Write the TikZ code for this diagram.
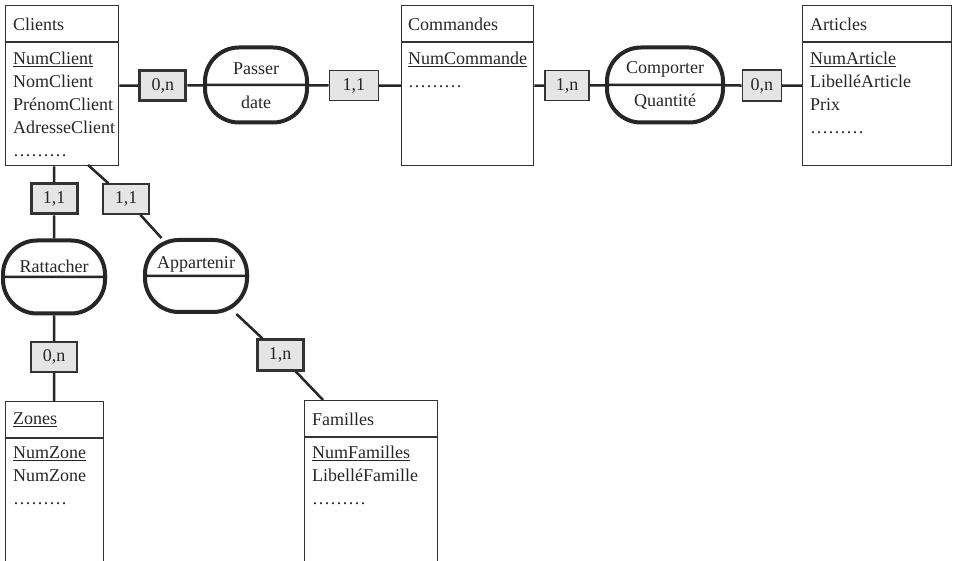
\documentclass[tikz,border=0pt]{standalone}
\usepackage{fontspec}
\setmainfont{Liberation Serif}
\usetikzlibrary{positioning}
\tikzset{entity/.style={shape=rectangle, draw=black!80, line width=1.3pt,
    anchor=north west, inner sep=0pt},
  etitle/.style={anchor=west, inner sep=0pt, text=black!85},
  eattr/.style={anchor=north west, align=left, inner sep=0pt, text=black!85},
  assoc/.style={shape=rectangle, draw=black!85, line width=4pt,
    rounded corners=34pt, minimum width=102pt, minimum height=75pt, inner sep=0pt},
  aname/.style={inner sep=0pt, text=black!85},
  card/.style={shape=rectangle, draw=black!80, line width=1.5pt, fill=black!10,
    minimum width=46pt, minimum height=30pt, inner sep=0pt, text=black!85},
  thick card/.style={card, line width=3pt},
  link/.style={draw=black!85, line width=2.5pt},
  sep/.style={draw=black!80, line width=1.3pt}}

\begin{document}
\begin{tikzpicture}[x=1pt, y=-1pt, font=\fontsize{18}{23}\selectfont]
    \useasboundingbox (0,0) rectangle (956,561);
    \clip (0,0) rectangle (956,561);

    % entities
    \node[entity, minimum width=113pt, minimum height=160pt] (clients) at (5,5) {};
    \node[entity, minimum width=132pt, minimum height=160pt] (commandes) at (401,5) {};
    \node[entity, minimum width=149pt, minimum height=160pt] (articles) at (802,5) {};
    \node[entity, minimum width=98pt, minimum height=170pt] (zones) at (5,401) {};
    \node[entity, minimum width=133pt, minimum height=170pt] (familles) at (304,400) {};

    % top row
    \node[assoc] (passer) at (256,85) {};
    \node[assoc, minimum width=116pt] (comporter) at (665,85) {};
    \node[thick card, right=19pt of clients] (clientsPasser) {0,n};
    \node[card, minimum width=49pt, left=22pt of commandes] (passerCommandes) {1,1};
    \node[card, minimum width=44pt, right=10pt of commandes] (commandesComporter) {1,n};
    \node[card, minimum width=39pt, minimum height=31pt, left=20pt of articles] (comporterArticles) {0,n};

    % left branch
    \node[thick card] (clientsRattacher) at (54,199) {1,1};
    \node[assoc, minimum height=73pt] (rattacher) at (54,277) {};
    \node[card] (rattacherZones) at (54,357) {0,n};

    % diagonal branch
    \node[card] (clientsAppartenir) at (126,199) {1,1};
    \node[assoc, minimum height=72pt] (appartenir) at (196,276) {};
    \node[thick card] (appartenirFamilles) at (280,355) {1,n};
    \coordinate (clientsFoot) at (88,165);
    \coordinate (famillesTop) at (323,400);

    % titles and attributes
    \node[etitle] (clientsTitle) at (13,24) {Clients};
    \node[eattr] (clientsAttr) at (13,52) {\underline{NumClient}\\NomClient\\PrénomClient\\AdresseClient\\………};
    \node[etitle] (commandesTitle) at (408,24) {Commandes};
    \node[eattr] (commandesAttr) at (408,52) {\underline{NumCommande}\\………};
    \node[etitle] (articlesTitle) at (810,24) {Articles};
    \node[eattr] (articlesAttr) at (810,52) {\underline{NumArticle}\\LibelléArticle\\Prix\\………};
    \node[etitle] (zonesTitle) at (13,420) {\underline{Zones}};
    \node[eattr] (zonesAttr) at (13,447) {\underline{NumZone}\\NumZone\\………};
    \node[etitle] (famillesTitle) at (312,419) {Familles};
    \node[eattr] (famillesAttr) at (312,446) {\underline{NumFamilles}\\LibelléFamille\\………};

    \path[sep]
    ([yshift=-37pt]clients.north west) -- ([yshift=-37pt]clients.north east)
    ([yshift=-37pt]commandes.north west) -- ([yshift=-37pt]commandes.north east)
    ([yshift=-37pt]articles.north west) -- ([yshift=-37pt]articles.north east)
    ([yshift=-37pt]zones.north west) -- ([yshift=-37pt]zones.north east)
    ([yshift=-37pt]familles.north west) -- ([yshift=-37pt]familles.north east);

    % association names
    \node[aname] (passerName) at ([yshift=16pt]passer.center) {Passer};
    \node[aname] (passerAttr) at ([yshift=-17pt]passer.center) {date};
    \node[aname] (comporterName) at ([yshift=16pt]comporter.center) {Comporter};
    \node[aname] (comporterAttr) at ([yshift=-17pt]comporter.center) {Quantité};
    \node[aname] (rattacherName) at ([yshift=11pt]rattacher.center) {Rattacher};
    \node[aname] (appartenirName) at ([yshift=12pt]appartenir.center) {Appartenir};

    \path[link]
    (passer.west) -- (passer.east)
    (comporter.west) -- (comporter.east)
    (rattacher.west) -- (rattacher.east)
    (appartenir.west) -- (appartenir.east)

    (clients) -- (clientsPasser) -- (passer)
    (passer) -- (passerCommandes) -- (commandes)
    (commandes) -- (commandesComporter) -- (comporter)
    (comporter) -- (comporterArticles) -- (articles)

    (clientsRattacher |- clients.south) -- (clientsRattacher) -- (rattacher)
    (rattacher) -- (rattacherZones) -- (zones)

    (clientsFoot) -- (clientsAppartenir) -- (appartenir)
    (appartenir) -- (appartenirFamilles) -- (famillesTop)
    ;
\end{tikzpicture}
\end{document}
